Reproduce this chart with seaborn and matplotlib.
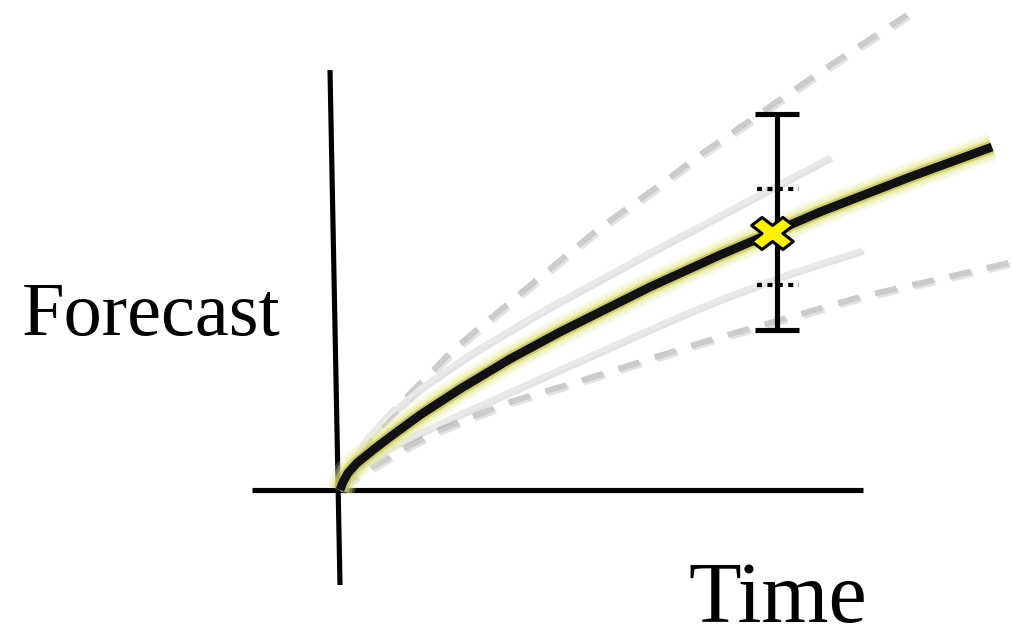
import matplotlib
matplotlib.use("Agg")
import matplotlib.pyplot as plt
import matplotlib.patheffects as pe
from matplotlib.markers import MarkerStyle
from matplotlib.transforms import Affine2D
import pandas as pd
import seaborn as sns

# Forecast paths (time, forecast); one unit = 100 px on the canvas
central_t = [0, 0.03, 0.08, 0.17, 0.33, 0.50, 0.80, 1.20, 1.70, 2.20, 3.10, 3.80, 4.80, 5.70, 6.52]
central_f = [0, 0.08, 0.17, 0.27, 0.40, 0.53, 0.75, 1.01, 1.31, 1.58, 2.03, 2.35, 2.78, 3.13, 3.43]

outer_hi_t = [0, 0.15, 0.37, 0.62, 1.13, 1.70, 2.57, 3.17, 3.60, 4.80, 5.67]
outer_hi_f = [0, 0.25, 0.62, 0.88, 1.40, 1.88, 2.60, 3.03, 3.35, 4.18, 4.75]

outer_lo_t = [0, 0.10, 0.67, 1.00, 1.37, 1.70, 2.40, 3.13, 3.60, 5.20, 6.73]
outer_lo_f = [0, 0.10, 0.43, 0.60, 0.75, 0.88, 1.09, 1.32, 1.47, 1.93, 2.28]

inner_hi_t = [0, 0.10, 0.27, 0.50, 0.83, 1.33, 2.00, 2.40, 3.10, 3.80, 4.90]
inner_hi_f = [0, 0.24, 0.52, 0.76, 1.04, 1.38, 1.78, 2.00, 2.38, 2.75, 3.33]

inner_lo_t = [0, 0.10, 0.27, 0.50, 0.83, 1.33, 2.00, 2.67, 3.30, 3.80, 4.50, 5.22]
inner_lo_f = [0, 0.14, 0.30, 0.43, 0.59, 0.82, 1.12, 1.42, 1.70, 1.91, 2.17, 2.40]

# Point forecast with its interval
point_t = [4.32]
point_f = [2.57]
bar_t = 4.37
bar_lo, bar_hi = 1.60, 3.76
inner_band = [2.05, 3.01]
cap_half = 0.22

# Axis lines
time_axis_t = [-0.88, 5.23]
time_axis_f = [0, 0]
fc_axis_t = [-0.10, 0.0]
fc_axis_f = [4.20, -0.95]

sns.set_theme(style="white")
plt.rcParams["font.family"] = ["Liberation Serif", "DejaVu Serif"]

fig = plt.figure(figsize=(10.13, 6.29), dpi=100)
ax = fig.add_axes([0, 0, 1, 1])
ax.set_xlim(-3.40, 6.73)
ax.set_ylim(-1.39, 4.90)
ax.axis("off")

shadow = [pe.SimpleLineShadow(offset=(1.5, -1.5), shadow_color="0.5", alpha=0.22), pe.Normal()]


def path(t, f, **kw):
    df = pd.DataFrame({"t": t, "f": f})
    sns.lineplot(data=df, x="t", y="f", ax=ax, sort=False, estimator=None, **kw)
    line = ax.lines[-1]
    line.set_solid_joinstyle("round")
    return line


# Axes
for t, f in [(time_axis_t, time_axis_f), (fc_axis_t, fc_axis_f)]:
    path(t, f, color="black", linewidth=3.7, solid_capstyle="butt")

# Outer (dashed) scenarios
for t, f in [(outer_hi_t, outer_hi_f), (outer_lo_t, outer_lo_f)]:
    ln = path(t, f, color="#cbcbcb", linewidth=4.3)
    ln.set_dashes((3.7, 2.7))
    ln.set_dash_capstyle("butt")
    ln.set_path_effects(shadow)

# Inner (light) scenarios
for t, f in [(inner_hi_t, inner_hi_f), (inner_lo_t, inner_lo_f)]:
    ln = path(t, f, color="#e9e9e9", linewidth=3.6, solid_capstyle="butt")
    ln.set_path_effects(shadow)

# Central forecast with a soft yellow glow
ln = path(central_t, central_f, color="#111111", linewidth=6.3, solid_capstyle="butt")
ln.set_path_effects([
    pe.Stroke(linewidth=21, foreground="#eef0b8", alpha=0.25),
    pe.Stroke(linewidth=17, foreground="#e8ea98", alpha=0.35),
    pe.Stroke(linewidth=13, foreground="#e0e278", alpha=0.45),
    pe.Stroke(linewidth=9.5, foreground="#b8b850", alpha=0.6),
    pe.Normal(),
])

# Interval bar
path([bar_t, bar_t], [bar_lo, bar_hi], color="black", linewidth=3.7, solid_capstyle="butt")
for v in (bar_lo, bar_hi):
    path([bar_t - cap_half, bar_t + cap_half], [v, v], color="black", linewidth=3.7,
         solid_capstyle="butt")
for v in inner_band:
    ln = path([bar_t - cap_half + 0.02, bar_t + cap_half], [v, v], color="black", linewidth=3.0)
    ln.set_dashes((1.2, 1.3))
    ln.set_dash_capstyle("butt")

# Point forecast marker: a slightly widened filled cross
base = MarkerStyle("X")
cross = base.get_path().transformed(base.get_transform() + Affine2D().scale(1.3, 1.0))
sns.scatterplot(x=point_t, y=point_f, ax=ax, marker=cross, s=900, color="#fff200",
                edgecolor="black", linewidth=2.2, zorder=10)

ax.text(-3.18, 1.55, "Forecast", fontsize=55, color="black", ha="left", va="baseline")
ax.text(3.48, -1.32, "Time", fontsize=62, color="black", ha="left", va="baseline")

fig.savefig("out.png", dpi=100)
